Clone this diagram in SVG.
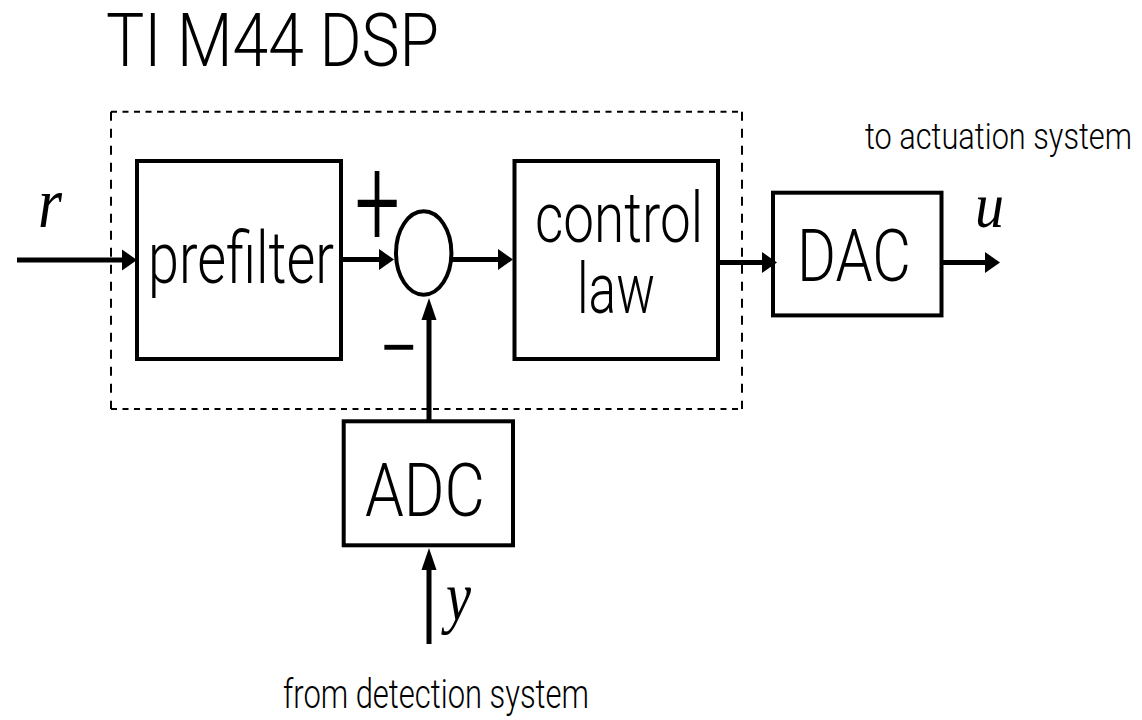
<svg xmlns="http://www.w3.org/2000/svg" width="1142" height="720" viewBox="0 0 1142 720">
<style>
.blk{fill:none;stroke:#000;stroke-width:4}
.wire{fill:none;stroke:#000;stroke-width:5}
.dash{fill:none;stroke:#000;stroke-width:2}
.sans{font-family:Roboto,"Liberation Sans",Arial,sans-serif;font-weight:300;fill:#000}
.math{font-family:"Liberation Serif","Times New Roman",serif;font-style:italic;fill:#000}
.sign{font-family:"Liberation Serif","Times New Roman",serif;fill:#000}
</style>
<defs>
<marker id="ah" markerUnits="userSpaceOnUse" markerWidth="20" markerHeight="24" viewBox="0 -12 16 24" refX="5" refY="0" orient="auto">
<path d="M0,-10.5 L15,0 L0,10.5 z" fill="#000"/>
</marker>
<marker id="av" markerUnits="userSpaceOnUse" markerWidth="26" markerHeight="18" viewBox="0 -9 23 18" refX="7" refY="0" orient="auto">
<path d="M0,-7.5 L22,0 L0,7.5 z" fill="#000"/>
</marker>
</defs>
<rect width="1142" height="720" fill="#fff"/>

<text id="title" class="sans" x="106" y="66" font-size="74" textLength="333" lengthAdjust="spacingAndGlyphs">TI M44 DSP</text>

<g id="dsp-boundary">
<line class="dash" x1="111" y1="111.7" x2="742" y2="111.7" stroke-dasharray="6 5.5"/>
<line class="dash" x1="111" y1="409" x2="742" y2="409" stroke-dasharray="6 5.5"/>
<line class="dash" x1="111" y1="111.7" x2="111" y2="409" stroke-dasharray="9 8"/>
<line class="dash" x1="742" y1="111.7" x2="742" y2="409" stroke-dasharray="9 8"/>
</g>

<g id="connectors">
<line class="wire" x1="17" y1="260" x2="127" y2="260" marker-end="url(#ah)"/>
<line class="wire" x1="341" y1="259.5" x2="384" y2="259.5" marker-end="url(#ah)"/>
<line class="wire" x1="451" y1="259.5" x2="503" y2="259.5" marker-end="url(#ah)"/>
<line class="wire" x1="718" y1="262.5" x2="767" y2="262.5" marker-end="url(#ah)"/>
<line class="wire" x1="941" y1="262.5" x2="990" y2="262.5" marker-end="url(#ah)"/>
<line class="wire" x1="429" y1="421" x2="429" y2="313" marker-end="url(#av)"/>
<line class="wire" x1="429" y1="644" x2="429" y2="563" marker-end="url(#av)"/>
</g>

<g id="prefilter">
<rect class="blk" x="137" y="161" width="204" height="198"/>
<text class="sans" x="148" y="283" font-size="72" textLength="186" lengthAdjust="spacingAndGlyphs">prefilter</text>
</g>

<g id="sum">
<ellipse class="blk" cx="423.7" cy="253" rx="27.7" ry="41.7"/>
<text class="sans" transform="translate(377.3,246) scale(1,1.6)" x="0" y="0" font-size="80" text-anchor="middle">+</text>
<text class="sign" transform="translate(398.8,379.7) scale(1,1.6)" x="0" y="0" font-size="62" text-anchor="middle">−</text>
</g>

<g id="control-law">
<rect class="blk" x="514.5" y="161" width="203.5" height="198"/>
<text class="sans" x="535" y="241.7" font-size="70" textLength="168" lengthAdjust="spacingAndGlyphs">control</text>
<text class="sans" x="577" y="313.3" font-size="70" textLength="78" lengthAdjust="spacingAndGlyphs">law</text>
</g>

<g id="dac">
<rect class="blk" x="773" y="192.7" width="168.5" height="122.7"/>
<text class="sans" x="797" y="280.7" font-size="73" textLength="114" lengthAdjust="spacingAndGlyphs">DAC</text>
</g>

<g id="adc">
<rect class="blk" x="343.7" y="421.3" width="169.3" height="124"/>
<text class="sans" x="365" y="516" font-size="75" textLength="120" lengthAdjust="spacingAndGlyphs">ADC</text>
</g>

<g id="labels">
<text class="math" x="38" y="227.3" font-size="72" textLength="24" lengthAdjust="spacingAndGlyphs">r</text>
<text class="math" x="975" y="227.3" font-size="64" textLength="29" lengthAdjust="spacingAndGlyphs">u</text>
<text class="math" x="446" y="619.6" font-size="70" textLength="25" lengthAdjust="spacingAndGlyphs">y</text>
<text class="sans" x="865" y="149.3" font-size="37" textLength="267" lengthAdjust="spacingAndGlyphs">to actuation system</text>
<text class="sans" x="283" y="708.3" font-size="40" textLength="306" lengthAdjust="spacingAndGlyphs">from detection system</text>
</g>
</svg>
